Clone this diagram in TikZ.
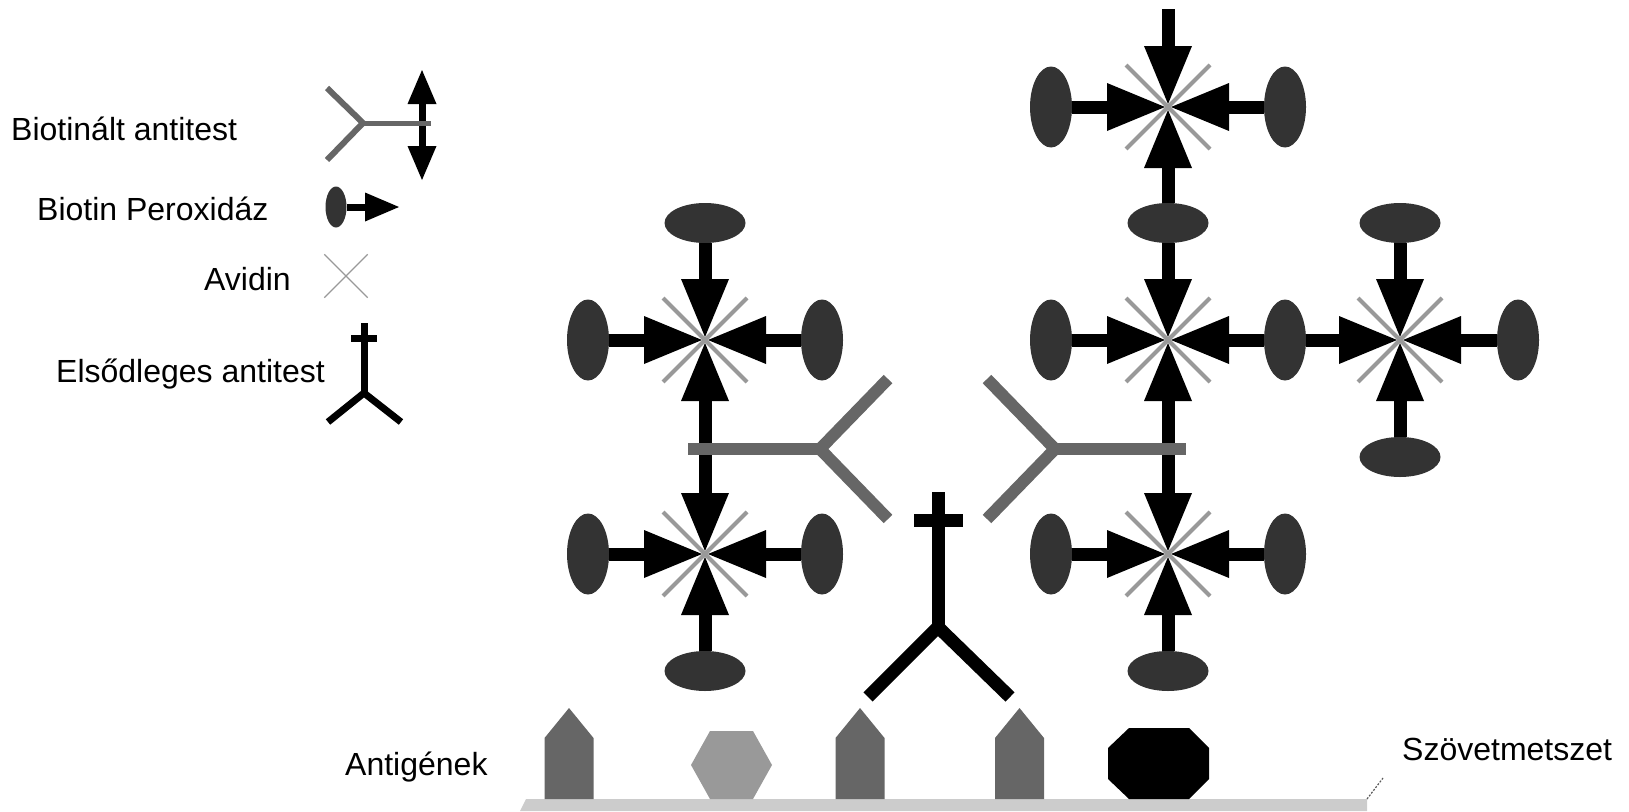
\documentclass[tikz,border=0pt]{standalone}
\usepackage{fontspec}
\setmainfont{Liberation Sans}
\usetikzlibrary{arrows.meta,shapes.geometric,shapes.misc}

\definecolor{hrpcol}{gray}{0.2}
\definecolor{abcol}{gray}{0.4}
\definecolor{avcol}{gray}{0.6}
\definecolor{tissuecol}{gray}{0.8}

\begin{document}
\begin{tikzpicture}[
    x=1pt, y=-1pt,
    hrpv/.style={ellipse, fill=hrpcol, inner sep=0pt, minimum width=42pt, minimum height=81pt},
    hrph/.style={ellipse, fill=hrpcol, inner sep=0pt, minimum width=81pt, minimum height=40pt},
    avidin/.style={cross out, draw=avcol, line width=4pt, inner sep=0pt, minimum size=80pt},
    bigtip/.style={Triangle[length=58pt, width=48pt, line width=0pt]},
    smalltip/.style={Triangle[length=34pt, width=29pt, line width=0pt]},
    biotinarrow/.style={-{Triangle[length=58pt, width=48pt, line width=0pt]}, line width=13pt, shorten >=3pt},
    biotinboth/.style={{Triangle[length=58pt, width=48pt, line width=0pt]}-{Triangle[length=58pt, width=48pt, line width=0pt]}, line width=13pt, shorten >=3pt, shorten <=3pt},
    smallarrow/.style={-{Triangle[length=34pt, width=29pt, line width=0pt]}, line width=7pt},
    smallboth/.style={{Triangle[length=34pt, width=29pt, line width=0pt]}-{Triangle[length=34pt, width=29pt, line width=0pt]}, line width=7pt},
    biotab/.style={draw=abcol, line width=12pt},
    primab/.style={draw=black, line width=13pt, line join=miter},
    lbl/.style={font=\fontsize{32}{38}\selectfont, anchor=base west, inner sep=0pt}
  ]
  \useasboundingbox (0,0) rectangle (1629,811);

  % avidin centres
  \coordinate (av1) at (705,340);
  \coordinate (av2) at (705,554);
  \coordinate (av3) at (1168,107);
  \coordinate (av4) at (1168,340);
  \coordinate (av5) at (1168,554);
  \coordinate (av6) at (1400,340);
  \coordinate (topp) at (1168,9);

  % Tissue section and antigens
  \coordinate (tisp) at (1367,799);
  \coordinate (leadp) at (1383,778);
  \fill[tissuecol] (526,799) -- (tisp) -- (1367,811) -- (520,811) -- cycle;
  \draw[gray!70!black, line width=1.2pt, dash pattern=on 2pt off 1.5pt] (tisp) -- (leadp);
  \foreach \cx in {569,860,1019.5}
    \fill[abcol] (\cx-24.5,799) -- (\cx-24.5,738) -- (\cx,708) -- (\cx+24.5,738) -- (\cx+24.5,799) -- cycle;
  \fill[avcol] (710,731) -- (753,731) -- (772,765) -- (753,799) -- (710,799) -- (691,765) -- cycle;
  \fill[black] (1129,728) -- (1189,728) -- (1209,748) -- (1209,779) -- (1189,799) -- (1129,799) -- (1108,779) -- (1108,748) -- cycle;

  % Primary antibody
  \coordinate (pa0p) at (938,492);
  \coordinate (pa1p) at (938,627);
  \draw[primab] (pa0p) -- (pa1p);
  \draw[primab] (914,520) -- (963,520);
  \draw[primab] (868,697) -- (pa1p) -- (1010,697);

  % Peroxidase
  \node[hrph] (h1t) at (705,223) {};
  \node[hrpv] (h1l) at (588,340) {};
  \node[hrpv] (h1r) at (822,340) {};

  \node[hrpv] (h2l) at (588,554) {};
  \node[hrpv] (h2r) at (822,554) {};
  \node[hrph] (h2b) at (705,671) {};

  \node[hrpv] (h3l) at (1051,107) {};
  \node[hrpv] (h3r) at (1285,107) {};
  \node[hrph] (h34) at (1168,223) {};

  \node[hrpv] (h4l) at (1051,340) {};
  \node[hrpv] (h46) at (1285,340) {};

  \node[hrpv] (h5l) at (1051,554) {};
  \node[hrpv] (h5r) at (1285,554) {};
  \node[hrph] (h5b) at (1168,671) {};

  \node[hrph] (h6t) at (1400,223) {};
  \node[hrph] (h6b) at (1400,457) {};
  \node[hrpv] (h6r) at (1518,340) {};

  % Biotin -> avidin
  \draw[biotinarrow] (h1t) -- (av1);
  \draw[biotinarrow] (h1l) -- (av1);
  \draw[biotinarrow] (h1r) -- (av1);
  \draw[biotinboth] (av1) -- (av2);
  \draw[biotinarrow] (h2l) -- (av2);
  \draw[biotinarrow] (h2r) -- (av2);
  \draw[biotinarrow] (h2b) -- (av2);

  \draw[biotinarrow] (topp) -- (av3);
  \draw[biotinarrow] (h3l) -- (av3);
  \draw[biotinarrow] (h3r) -- (av3);
  \draw[biotinarrow] (h34) -- (av3);
  \draw[biotinarrow] (h34) -- (av4);
  \draw[biotinarrow] (h4l) -- (av4);
  \draw[biotinarrow] (h46) -- (av4);
  \draw[biotinboth] (av4) -- (av5);
  \draw[biotinarrow] (h5l) -- (av5);
  \draw[biotinarrow] (h5r) -- (av5);
  \draw[biotinarrow] (h5b) -- (av5);

  \draw[biotinarrow] (h46) -- (av6);
  \draw[biotinarrow] (h6t) -- (av6);
  \draw[biotinarrow] (h6b) -- (av6);
  \draw[biotinarrow] (h6r) -- (av6);

  % Biotinylated antibodies
  \coordinate (ba1p) at (820,449);
  \coordinate (ba2p) at (1055,449);
  \draw[biotab] (688,449) -- (ba1p);
  \draw[biotab] (888,379) -- (ba1p) -- (888,519);
  \draw[biotab] (ba2p) -- (1186,449);
  \draw[biotab] (987,379) -- (ba2p) -- (987,519);

  % Avidin
  \foreach \i in {1,...,6}
    \node[avidin] (avn\i) at (av\i) {};

  % Legend
  \coordinate (lb0p) at (422,70);
  \coordinate (lb1p) at (422,180);
  \coordinate (lbfp) at (363,123);
  \draw[abcol, line width=6pt] (327,88) -- (lbfp) -- (327,160);
  \draw[smallboth] (lb0p) -- (lb1p);
  \draw[abcol, line width=5pt] (lbfp) -- (431,123);

  \coordinate (lhp) at (399,207);
  \node[hrpv, minimum width=21pt, minimum height=41pt] (lhrp) at (336,207) {};
  \draw[smallarrow] (lhrp) -- (lhp);

  \node[avidin, line width=1.3pt, minimum size=42pt] (lav) at (346,276) {};

  \coordinate (lp0p) at (364,323);
  \coordinate (lp1p) at (364,393);
  \draw[black, line width=7pt] (lp0p) -- (lp1p);
  \draw[black, line width=7pt] (351,338) -- (377,338);
  \draw[black, line width=7pt, line join=miter] (328,422) -- (lp1p) -- (401,422);

  % Labels
  \node[lbl] (lbab) at (11,140) {Biotinált antitest};
  \node[lbl] (lbhrp) at (37,220) {Biotin Peroxidáz};
  \node[lbl] (lbav) at (204,290) {Avidin};
  \node[lbl] (lbprim) at (56,382) {Elsődleges antitest};
  \node[lbl] (lbag) at (345,775) {Antigének};
  \node[lbl] (lbtis) at (1402,760) {Szövetmetszet};

\end{tikzpicture}
\end{document}
